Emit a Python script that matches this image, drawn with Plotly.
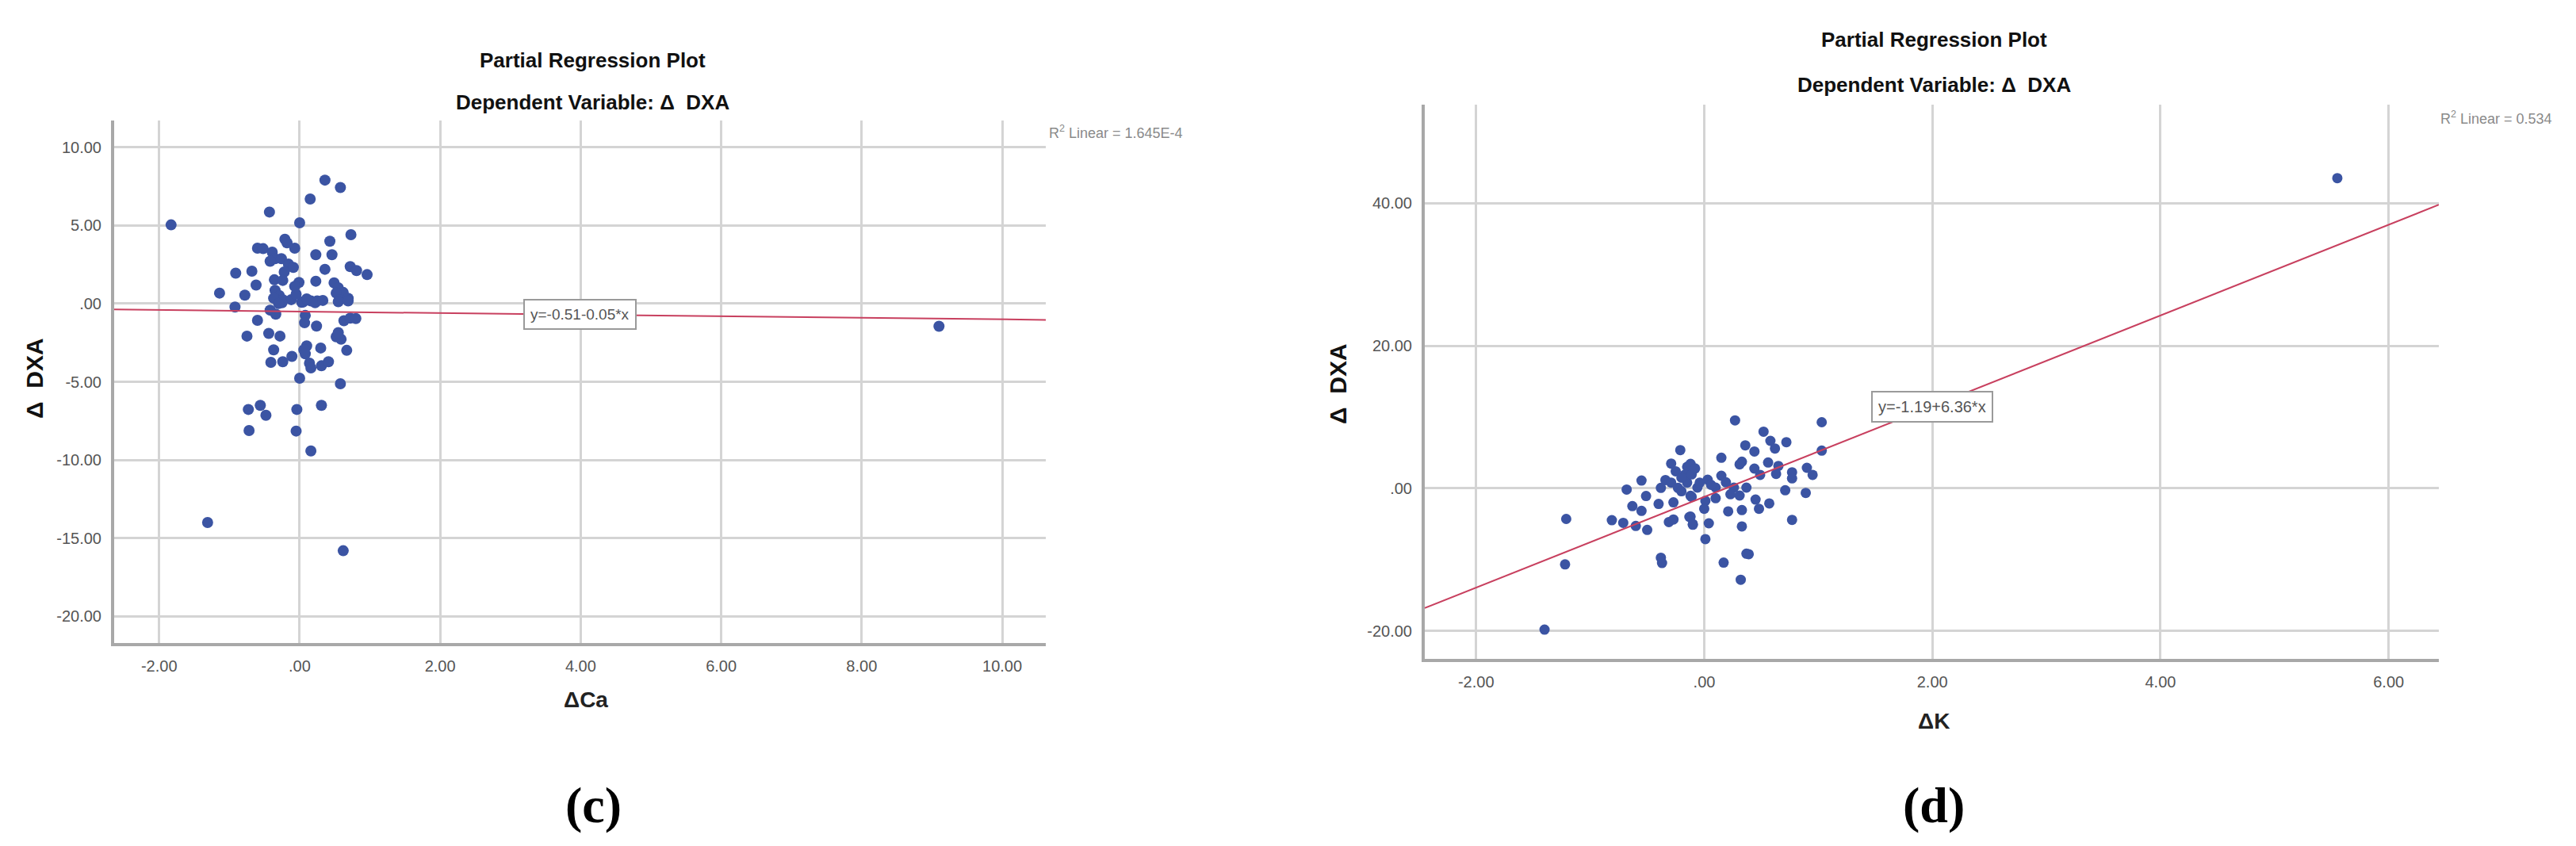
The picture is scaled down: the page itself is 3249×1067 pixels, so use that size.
import plotly.graph_objects as go

W, H = 3249, 1067

# ---------------- data: panel (c) ----------------
ca_x = [0.36, 0.58, 0.15, -0.43, 0.00, 0.73, -0.21, -0.18, 0.43, -0.07, -0.60, -0.52, 0.23, 0.46,
        -0.39, -0.35, -0.42, -0.26, -0.16, -0.09, 0.36, 0.72, 0.81, 0.96, -0.68, -0.91, -0.22, -0.36,
        -0.24, -0.62, -0.01, -0.07, 0.23, 0.49, 0.55, 0.62, 0.52, -1.14, -0.78, -0.35, -0.29, -0.24,
        -0.12, 0.03, 0.16, 0.25, 0.57, 0.69, -0.37,
        -0.92, -0.42, -0.34, -0.60, 0.08, 0.07, 0.24, 0.63, 0.72, 0.80, -0.75, -0.44, -0.28, 0.52,
        0.59, 0.55, 0.67, -0.37, 0.10, 0.06, 0.08, 0.30, -0.11, -0.24, -0.41, 0.14, 0.16, 0.31, 0.41,
        0.00, 0.58, -0.56, -0.73, -0.48, -0.04, 0.31, -0.72, -0.05, 0.16, 0.55, 0.69,
        -0.25, 0.05, 0.22, 0.33, -0.30, 0.10, -0.05,
        -1.83, -1.31, 0.62, 9.10]
ca_y = [7.89, 7.42, 6.68, 5.85, 5.16, 4.40, 4.11, 3.88, 3.98, 3.54, 3.54, 3.51, 3.12, 3.12,
        3.29, 2.87, 2.70, 2.87, 2.53, 2.31, 2.19, 2.36, 2.11, 1.85, 2.07, 1.94, 2.02, 1.52,
        1.48, 1.18, 1.35, 1.10, 1.43, 1.32, 1.01, 0.71, 0.67, 0.67, 0.54, 0.84, 0.51, 0.25,
        0.25, 0.08, 0.17, 0.17, 0.25, 0.34, 0.34,
        -0.22, -0.42, -0.68, -1.07, -0.76, -1.23, -1.44, -1.10, -0.93, -0.96, -2.08, -1.91, -2.08, -2.12,
        -2.28, -1.86, -2.99, -2.96, -2.71, -2.96, -3.21, -2.84, -3.38, -3.72, -3.76, -3.81, -4.11, -3.98, -3.72,
        -4.77, -5.13, -6.51, -6.77, -7.14, -6.77, -6.51, -8.12, -8.15, -9.42, 0.12, 0.17,
        0.05, 0.10, 0.05, 0.20, 0.00, 0.30, 0.60,
        5.03, -14.00, -15.80, -1.45]
ca_fit = [-0.51, -0.05]          # intercept, slope
ca_r2 = "1.645E-4"
ca_xticks = [-2, 0, 2, 4, 6, 8, 10]
ca_xlabels = ["-2.00", ".00", "2.00", "4.00", "6.00", "8.00", "10.00"]
ca_yticks = [10, 5, 0, -5, -10, -15, -20]
ca_ylabels = ["10.00", "5.00", ".00", "-5.00", "-10.00", "-15.00", "-20.00"]

# ---------------- data: panel (d) ----------------
k_x = [-1.21, -1.22, -0.81, -0.71, -0.68, -0.55, -0.51, -0.63, -0.55, -0.60, -0.50, -0.40, -0.27,
       -0.38, -0.37, -0.31, -0.27, -0.21, -0.29, -0.38, -0.34, -0.29, -0.23, -0.15, -0.15, -0.12,
       -0.13, -0.10, -0.17,
       0.27, 1.03, 0.52, 0.58, 0.72, 0.62, 0.36, 0.44, 0.15, 0.33, 0.31, 0.56, 0.65, 0.44, 0.49,
       0.63, 0.77, 0.77, 0.90, 0.95, 1.03, 0.71, 0.89, 0.77, -0.12, -0.11, 0.03, 0.15, 0.19, 0.10,
       -0.06, 0.26, 0.37, 0.31, 0.23, 0.10, 0.01, -0.11, 0.45, 0.57, 0.48, 0.33, 0.21, 0.00, -0.12,
       -0.10, 0.04, 0.33, 0.01, 0.39, 0.37, 0.17, 0.32,
       -0.08, -0.04, -0.20, 0.06, -0.25, -0.20,
       -1.40, 5.55]
k_y = [-4.28, -10.65, -4.46, -4.83, -0.16, 1.10, -1.07, -2.48, -3.15, -5.26, -5.82, -2.18, -1.96,
       -9.72, -10.46, -4.72, -4.35, 5.37, 3.48, 0.07, 1.18, 0.81, 0.07, 3.03, 0.81, -1.04,
       -4.00, -5.10, 1.92,
       9.54, 9.28, 7.96, 6.67, 6.48, 5.59, 6.04, 5.18, 4.30, 3.74, 3.37, 3.63, 3.15, 2.78, 1.90,
       2.04, 2.26, 1.41, 2.89, 1.90, 5.30, -0.26, -0.63, -4.41, 3.44, 1.96, 1.22, 1.78, 0.85, 0.11,
       0.11, 0.11, 0.11, -1.00, -0.82, -1.37, -1.74, -1.19, -1.56, -2.11, -2.85, -3.04, -3.22, -2.85, -3.96,
       -5.00, -4.89, -5.33, -7.11, -9.22, -9.15, -10.40, -12.80,
       2.80, 0.80, -0.40, 0.50, 2.40, 1.50,
       -19.80, 43.50]
k_fit = [-1.19, 6.36]
k_r2 = "0.534"
k_xticks = [-2, 0, 2, 4, 6]
k_xlabels = ["-2.00", ".00", "2.00", "4.00", "6.00"]
k_yticks = [40, 20, 0, -20]
k_ylabels = ["40.00", "20.00", ".00", "-20.00"]

# ---------------- styling ----------------
BLUE = "#3b54a3"
LINE = "#c8405f"
GRID = "#d4d4d4"
AXIS = "#a8a8a8"
TICKFONT = dict(family="Liberation Sans Narrow, Arial Narrow, Liberation Sans, Arial", size=20, color="#555555")
BOLD = "Liberation Sans, Arial"


def px(x):
    return x / W


def py(y):
    return 1 - y / H


panels = [
    dict(x=ca_x, y=ca_y, fit=ca_fit, r2=ca_r2, xt=ca_xticks, xl=ca_xlabels, yt=ca_yticks, yl=ca_ylabels,
         xdom=[px(136), px(1311)], ydom=[py(803), py(144)], xr=[-2.64, 10.62], yr=[-21.7, 11.7],
         cx=739, t1=68, t2=121, ytitle=(35, 469), xtitle_y=874, xtitle="ΔCa", lab="(c)", labx=740,
         r2pos=(1313, 158), msize=14, xt_name="x", yt_name="y"),
    dict(x=k_x, y=k_y, fit=k_fit, r2=k_r2, xt=k_xticks, xl=k_xlabels, yt=k_yticks, yl=k_ylabels,
         xdom=[px(1789), px(3068)], ydom=[py(823), py(124)], xr=[-2.45, 6.44], yr=[-23.9, 53.8],
         cx=2431, t1=42, t2=99, ytitle=(1679, 476), xtitle_y=901, xtitle="ΔK", lab="(d)", labx=2431,
         r2pos=(3068, 140), msize=13, xt_name="x2", yt_name="y2"),
]

fig = go.Figure()
annotations = []
layout = dict(width=W, height=H, margin=dict(l=0, r=0, t=0, b=0),
              paper_bgcolor="white", plot_bgcolor="white", showlegend=False)

for i, p in enumerate(panels):
    sfx = "" if i == 0 else "2"
    xa, ya = "x" + sfx, "y" + sfx
    fig.add_trace(go.Scatter(x=p["x"], y=p["y"], mode="markers", xaxis=xa, yaxis=ya,
                             marker=dict(color=BLUE, size=p["msize"], line=dict(width=0))))
    b0, b1 = p["fit"]
    lx = p["xr"]
    fig.add_trace(go.Scatter(x=lx, y=[b0 + b1 * v for v in lx], mode="lines", xaxis=xa, yaxis=ya,
                             line=dict(color=LINE, width=2)))
    layout["xaxis" + sfx] = dict(domain=p["xdom"], anchor=ya, range=p["xr"], tickvals=p["xt"],
                                 ticktext=p["xl"], showgrid=True, gridcolor=GRID, gridwidth=3,
                                 zeroline=False, showline=True, linecolor=AXIS, linewidth=4,
                                 ticks="", tickfont=TICKFONT, ticklabelstandoff=8)
    layout["yaxis" + sfx] = dict(domain=p["ydom"], anchor=xa, range=p["yr"], tickvals=p["yt"],
                                 ticktext=p["yl"], showgrid=True, gridcolor=GRID, gridwidth=3,
                                 zeroline=False, showline=True, linecolor=AXIS, linewidth=4,
                                 ticks="", tickfont=TICKFONT, ticklabelstandoff=8)
    # titles
    annotations.append(dict(text="<b>Partial Regression Plot</b>", x=px(p["cx"]), y=py(p["t1"]),
                            xref="paper", yref="paper", showarrow=False, xanchor="center", yanchor="middle",
                            font=dict(family=BOLD, size=26, color="#111111")))
    annotations.append(dict(text="<b>Dependent Variable: Δ  DXA</b>", x=px(p["cx"]), y=py(p["t2"]),
                            xref="paper", yref="paper", showarrow=False, xanchor="center", yanchor="middle",
                            font=dict(family=BOLD, size=26, color="#111111")))
    annotations.append(dict(text="<b>Δ  DXA</b>", x=px(p["ytitle"][0]), y=py(p["ytitle"][1]),
                            xref="paper", yref="paper", showarrow=False, textangle=-90,
                            xanchor="center", yanchor="middle",
                            font=dict(family=BOLD, size=30, color="#111111")))
    annotations.append(dict(text="<b>" + p["xtitle"] + "</b>", x=px(p["cx"] - 8 if i == 0 else p["cx"]),
                            y=py(p["xtitle_y"]), xref="paper", yref="paper", showarrow=False,
                            xanchor="center", yanchor="middle",
                            font=dict(family=BOLD, size=28, color="#222222")))
    annotations.append(dict(text="<b>" + p["lab"] + "</b>", x=px(p["labx"]), y=py(1007),
                            xref="paper", yref="paper", showarrow=False, xanchor="center", yanchor="middle",
                            font=dict(family="Liberation Serif, Times New Roman", size=64, color="#000000")))
    annotations.append(dict(text="R<sup>2</sup> Linear = " + p["r2"], x=px(p["r2pos"][0]), y=py(p["r2pos"][1]),
                            xref="paper", yref="paper", showarrow=False, xanchor="left", yanchor="middle",
                            font=dict(family="Liberation Sans Narrow, Arial Narrow, Liberation Sans", size=18,
                                      color="#8a8a8a")))
    # equation label centred on the fit line at the middle of the x range
    xm = (p["xr"][0] + p["xr"][1]) / 2
    sign = "+" if b1 >= 0 else "-"
    eq = "y=%.2f%s%.2f*x" % (b0, sign, abs(b1))
    annotations.append(dict(text=eq, x=xm, y=b0 + b1 * xm, xref=xa, yref=ya, showarrow=False,
                            xanchor="center", yanchor="middle", bgcolor="white", bordercolor="#9a9a9a",
                            borderwidth=2, borderpad=7,
                            font=dict(family="Liberation Sans Narrow, Arial Narrow, Liberation Sans",
                                      size=20 if i else 19, color="#555555")))

layout["annotations"] = annotations
fig.update_layout(**layout)
fig.write_html("out.html")
